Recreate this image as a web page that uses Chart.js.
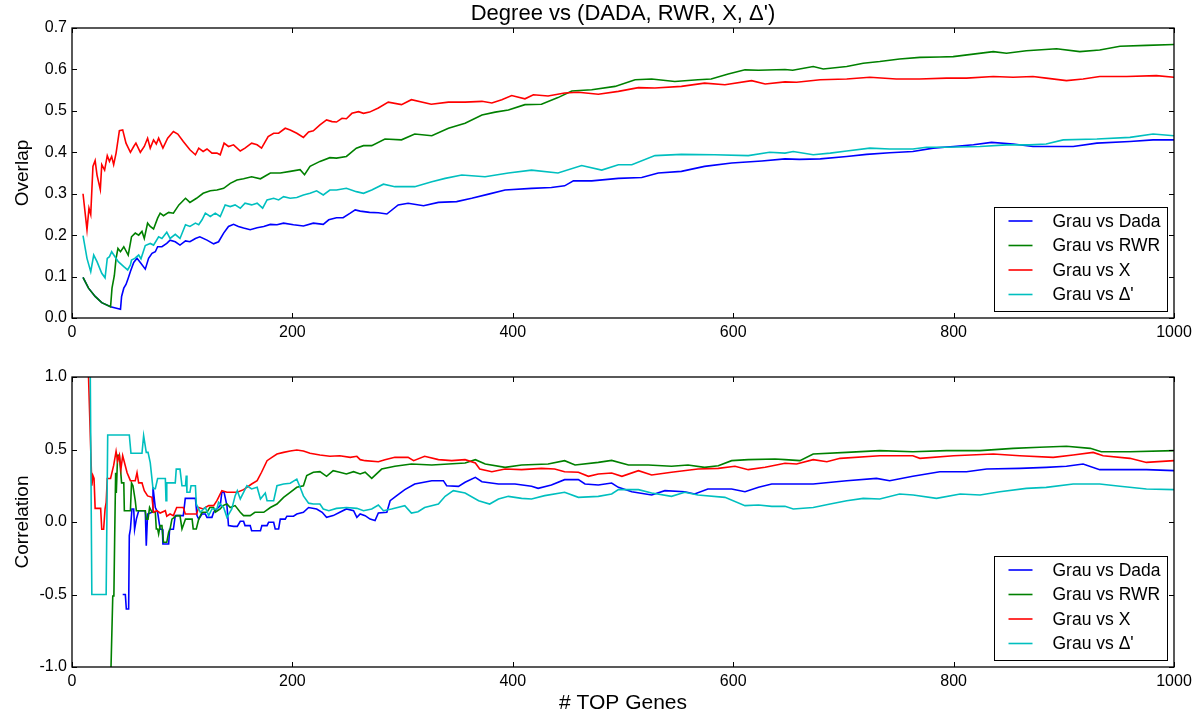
<!DOCTYPE html>
<html>
<head>
<meta charset="utf-8">
<script src="https://cdn.jsdelivr.net/npm/chart.js@4.4.1/dist/chart.umd.min.js"></script>
<style>
html,body{margin:0;padding:0;background:#fff;}
#wrap{position:relative;width:1200px;height:721px;overflow:hidden;background:#fff;}
canvas{position:absolute;left:0;}
#c1{top:0;}
#c2{top:350px;}
</style>
</head>
<body>
<div id="wrap">
<canvas id="c1" width="1200" height="350"></canvas>
<canvas id="c2" width="1200" height="371"></canvas>
</div>
<script>
// ---------- DATA ----------
const seriesLabels = ['Grau vs Dada', 'Grau vs RWR', 'Grau vs X', "Grau vs \u0394'"];
const seriesColors = ['#0000ff', '#008000', '#ff0000', '#00bfbf'];
const chartTitle = "Degree vs (DADA, RWR, X, \u0394')";
const overlapAxisTitle = 'Overlap';
const corrAxisTitle = 'Correlation';
const geneAxisTitle = '# TOP Genes';

const geneTicks = [0, 200, 400, 600, 800, 1000];
const overlapTicks = [0, 0.1, 0.2, 0.3, 0.4, 0.5, 0.6, 0.7];
const corrTicks = [-1, -0.5, 0, 0.5, 1];

// Overlap (top panel): [# top genes, overlap]
const overlapDada = [[10,0.098],[15,0.072],[21,0.052],[27,0.037],[35,0.027],[44,0.021],[45,0.052],[47,0.072],[49,0.081],[51,0.096],[53,0.112],[56,0.134],[59,0.144],[62,0.134],[66.5,0.118],[69.5,0.144],[72.6,0.156],[75.6,0.16],[77.7,0.172],[81.6,0.172],[86,0.18],[89,0.188],[93.7,0.184],[98,0.176],[103,0.186],[107,0.184],[112,0.192],[116,0.196],[122.5,0.188],[128.5,0.179],[133,0.184],[137.6,0.205],[142,0.221],[146.6,0.226],[151,0.221],[155.7,0.217],[161.7,0.213],[168,0.218],[174,0.221],[180,0.226],[186,0.225],[192,0.229],[201,0.225],[210,0.222],[219,0.229],[228,0.226],[233,0.237],[240,0.242],[246,0.242],[252.5,0.253],[257,0.261],[261.5,0.258],[270,0.255],[278,0.254],[285.7,0.251],[296,0.273],[305,0.277],[319,0.271],[332.5,0.279],[349,0.281],[362.7,0.289],[378,0.299],[393,0.309],[417,0.313],[435,0.315],[447,0.319],[455,0.331],[471.6,0.331],[495.8,0.337],[517,0.339],[532,0.35],[553,0.354],[574,0.366],[598.6,0.374],[626,0.379],[647,0.384],[660,0.383],[679,0.384],[703,0.39],[721,0.395],[742,0.399],[763,0.402],[781.5,0.41],[800,0.414],[818,0.418],[834.4,0.424],[854,0.42],[872,0.414],[890,0.414],[908.5,0.414],[930,0.422],[960,0.426],[981,0.43],[1000,0.43]];
const overlapRwr = [[10,0.098],[15,0.072],[21,0.052],[27,0.037],[35,0.027],[36.3,0.072],[38.4,0.102],[40,0.144],[41.7,0.168],[44,0.16],[47,0.172],[51,0.152],[54,0.196],[57.4,0.205],[60.5,0.2],[63.5,0.209],[65.6,0.192],[68.6,0.229],[71,0.221],[74,0.215],[77.7,0.241],[80,0.253],[83,0.247],[87.7,0.255],[92,0.253],[97,0.273],[103,0.289],[107,0.279],[113,0.289],[119,0.301],[125.5,0.307],[131.5,0.309],[137.6,0.313],[143.6,0.325],[149.7,0.333],[155.7,0.336],[163,0.341],[171,0.336],[180,0.35],[189,0.35],[198,0.354],[207,0.358],[211,0.346],[216,0.366],[225,0.378],[234,0.387],[240,0.386],[249,0.39],[258,0.41],[264.5,0.416],[272,0.416],[284,0.432],[299,0.43],[311,0.444],[326.5,0.44],[341.6,0.458],[356.7,0.47],[372,0.49],[384,0.497],[396,0.502],[411,0.515],[426,0.516],[441,0.532],[453.5,0.548],[471.6,0.551],[492.8,0.559],[511,0.575],[526,0.577],[547,0.571],[568,0.575],[580,0.577],[595.5,0.589],[610.7,0.599],[623,0.598],[647,0.6],[654,0.598],[672.6,0.607],[681.7,0.601],[703,0.607],[718,0.615],[733,0.619],[751,0.625],[769.4,0.629],[787.5,0.63],[799.6,0.631],[817.8,0.637],[836,0.643],[848,0.639],[866,0.645],[893.4,0.65],[914.5,0.643],[932.6,0.647],[951,0.656],[975,0.658],[1000,0.66]];
const overlapX = [[10,0.3],[13.6,0.213],[15.4,0.265],[17,0.25],[19,0.366],[21,0.38],[22.7,0.345],[25.7,0.31],[27,0.37],[29.6,0.357],[32,0.392],[34,0.378],[36,0.39],[37.8,0.37],[40,0.398],[43,0.452],[46,0.454],[49,0.422],[53,0.4],[56,0.414],[58,0.422],[62,0.4],[65.6,0.414],[68.6,0.434],[71,0.41],[74,0.43],[76.5,0.42],[78.6,0.434],[82.5,0.41],[86.8,0.434],[92,0.45],[96,0.444],[101,0.426],[107,0.406],[112,0.394],[115,0.41],[119,0.402],[122.5,0.408],[127,0.398],[131.5,0.398],[134.5,0.394],[138,0.422],[142,0.414],[146.6,0.418],[152.7,0.403],[157,0.41],[163,0.422],[168,0.418],[172,0.41],[178,0.438],[183,0.446],[187.5,0.446],[193.5,0.458],[198,0.454],[204,0.446],[210,0.436],[214.7,0.449],[219,0.452],[225,0.466],[231,0.478],[236,0.474],[240,0.473],[245,0.482],[249,0.481],[254,0.494],[260,0.498],[264.5,0.494],[270,0.497],[278,0.507],[287,0.521],[299,0.515],[308,0.527],[326,0.516],[341.6,0.521],[356.7,0.521],[372,0.523],[381,0.519],[390,0.527],[399,0.537],[411,0.529],[418.7,0.539],[432,0.536],[447,0.543],[459.5,0.545],[477.6,0.54],[495.8,0.547],[514,0.556],[529,0.555],[553,0.559],[574,0.567],[592.5,0.563],[616.7,0.573],[629,0.565],[647,0.57],[657.5,0.569],[679,0.575],[703,0.577],[724,0.581],[748,0.577],[769,0.577],[793.6,0.579],[811.7,0.579],[836,0.583],[854,0.581],[872,0.583],[884,0.579],[902.4,0.573],[917.5,0.577],[932.6,0.583],[957,0.583],[984,0.585],[1000,0.581]];
const overlapDelta = [[10,0.199],[13.6,0.144],[17,0.112],[19.7,0.152],[22.7,0.136],[27,0.108],[30,0.097],[32,0.144],[34,0.148],[36,0.16],[39,0.148],[42,0.136],[47,0.124],[50.5,0.116],[53,0.128],[54,0.14],[57,0.144],[60.5,0.152],[62.6,0.143],[66.5,0.175],[71,0.18],[74,0.176],[78.6,0.196],[81.6,0.192],[86,0.207],[89,0.192],[93.7,0.202],[98,0.192],[103,0.225],[107,0.221],[112,0.229],[115,0.225],[118,0.237],[121,0.253],[125.5,0.245],[130,0.253],[134.5,0.245],[139,0.273],[143.6,0.269],[148,0.273],[152.7,0.265],[157,0.277],[163,0.273],[168,0.277],[173,0.265],[177,0.285],[183,0.289],[187.5,0.285],[192,0.293],[198,0.289],[204,0.291],[210,0.297],[216,0.301],[222,0.307],[228,0.297],[234,0.309],[240,0.309],[249,0.313],[258,0.305],[264.5,0.301],[272,0.309],[282.6,0.323],[293,0.317],[311,0.317],[326.5,0.329],[338.6,0.337],[353.7,0.345],[374.8,0.341],[396,0.35],[417,0.357],[441,0.35],[462.5,0.368],[480.7,0.357],[495.8,0.37],[508,0.37],[529,0.392],[553,0.395],[583,0.394],[613.7,0.392],[633,0.4],[647,0.398],[654.5,0.402],[672.6,0.394],[688,0.398],[703,0.403],[724,0.41],[742,0.408],[763,0.408],[775.4,0.412],[793.6,0.412],[824,0.414],[848,0.418],[869,0.418],[884,0.42],[899.4,0.43],[930,0.432],[960,0.436],[981,0.444],[1000,0.44]];

// Correlation (bottom panel): [# top genes, correlation]
const corrDada = [[46,-0.5],[48.4,-0.5],[49.3,-0.6],[51.4,-0.6],[52,-0.094],[53,-0.05],[54.4,0.09],[56,0.09],[56.8,-0.05],[58.4,0.02],[60.5,0.078],[66.5,0.078],[67.4,-0.163],[68.6,0.055],[72.6,0.067],[73.5,0.24],[75.6,0.1],[77.7,0.067],[80,-0.05],[82,-0.05],[82.5,-0.152],[87.7,-0.152],[88.6,-0.05],[92,-0.05],[93.7,0.044],[101,0.044],[102.8,0.163],[112,0.163],[113.4,0.044],[115,0.02],[118,0.055],[121,0.055],[122.5,0.032],[127,0.032],[128.5,0.067],[131.5,0.09],[134.5,0.113],[136,0.205],[138,0.205],[140.6,0.113],[142,-0.025],[146.6,-0.03],[150,-0.03],[152.7,0.005],[155.7,0.005],[157,-0.025],[161.7,-0.025],[163,-0.06],[171,-0.06],[172.3,-0.025],[177,-0.025],[178.4,-0.002],[183,-0.002],[184.4,-0.048],[187.5,-0.048],[189,0.02],[193.5,0.02],[195,0.04],[201,0.04],[204,0.055],[210,0.067],[214.7,0.1],[222,0.09],[227,0.067],[231,0.032],[237,0.044],[243,0.067],[249,0.09],[255.5,0.078],[258.5,0.032],[261.5,0.055],[266,0.044],[270.5,0.02],[275,0.01],[278,0.062],[285.7,0.067],[288.7,0.147],[294.7,0.182],[302,0.223],[311,0.262],[326.5,0.285],[337,0.285],[340,0.25],[350.7,0.246],[356.7,0.274],[366,0.308],[372,0.278],[387,0.262],[402,0.262],[417,0.246],[423,0.232],[435,0.255],[447,0.292],[459.5,0.292],[465.5,0.262],[477.6,0.255],[489.7,0.269],[495.8,0.239],[508,0.209],[526,0.186],[538,0.216],[556,0.209],[565,0.193],[577,0.228],[598.6,0.228],[610.7,0.209],[623,0.239],[635,0.262],[647,0.262],[672.6,0.262],[703,0.285],[730,0.301],[742,0.285],[763,0.315],[787.5,0.347],[811.7,0.347],[830,0.365],[860,0.37],[884,0.377],[902.4,0.384],[917.5,0.4],[932.6,0.361],[960,0.361],[975,0.361],[1000,0.354]];
const corrRwr = [[35.4,-1.0],[37,-0.51],[38,-0.51],[38.7,-0.12],[39.6,0.34],[40.2,0.2],[41.4,0.46],[43,0.46],[45,0.27],[47,0.27],[47.5,0.078],[53,0.078],[54,0.27],[55.3,0.25],[57.4,0.147],[58.4,0.078],[66.5,0.078],[67.4,0.02],[69,0.02],[70.4,0.1],[72.6,0.067],[75.6,0.067],[76.5,-0.048],[77.7,-0.048],[78.6,-0.083],[80,-0.025],[81.6,-0.025],[83,-0.14],[86,-0.14],[87.7,-0.07],[89,-0.048],[90.7,0.02],[95,0.044],[98,0.044],[99.8,-0.048],[103,0.02],[109,0.02],[110,-0.048],[112.8,-0.048],[115,0.02],[118,0.067],[122.5,0.067],[125,0.1],[128.5,0.1],[130,0.067],[134.5,0.09],[137,0.113],[140.6,0.124],[143.6,0.1],[148,0.113],[152.7,0.067],[155.7,0.044],[161.7,0.044],[166,0.067],[174,0.067],[180,0.1],[186,0.124],[192,0.17],[198,0.205],[204,0.239],[210,0.25],[213,0.32],[219,0.343],[225,0.347],[231,0.315],[237,0.354],[243,0.343],[249,0.331],[255.5,0.347],[261.5,0.331],[266,0.343],[272,0.301],[281,0.365],[293,0.384],[308,0.4],[326.5,0.393],[341.6,0.4],[356.7,0.407],[366,0.43],[375,0.4],[393,0.377],[408,0.393],[432,0.4],[447,0.423],[456.5,0.393],[477.6,0.411],[489.7,0.425],[505,0.393],[523,0.393],[544,0.384],[559,0.393],[574,0.377],[586.5,0.388],[598.6,0.423],[613.7,0.43],[638,0.434],[647,0.43],[660.5,0.423],[672.6,0.469],[703,0.48],[733,0.492],[763,0.485],[793.6,0.492],[824,0.492],[854,0.508],[878,0.515],[902.4,0.522],[924,0.508],[934,0.485],[960,0.485],[1000,0.492]];
const corrX = [[15,1.0],[18,0.25],[19,0.32],[20,0.3],[21,0.094],[26,0.094],[27,-0.05],[28.7,-0.05],[30,0.09],[31,0.135],[32,0.3],[35,0.3],[37.8,0.39],[40,0.487],[41.4,0.42],[43,0.46],[44.4,0.365],[46,0.457],[50,0.34],[53,0.285],[57.4,0.285],[59,0.34],[60.5,0.27],[63.5,0.27],[65.6,0.216],[68.6,0.18],[72.6,0.17],[74,0.067],[77,0.078],[80,0.062],[84.7,0.078],[86,0.04],[89,0.055],[92,0.044],[95,0.1],[101,0.1],[102.8,0.055],[113,0.055],[115,0.1],[119,0.09],[124,0.113],[128.5,0.113],[131.5,0.147],[136,0.216],[140.6,0.205],[150,0.205],[155.7,0.223],[163,0.262],[168,0.285],[172,0.343],[177,0.423],[181.4,0.446],[186,0.469],[192,0.48],[198,0.49],[204,0.497],[210,0.49],[216,0.474],[225,0.462],[234,0.453],[243,0.457],[252.5,0.446],[258.5,0.453],[261.5,0.43],[266,0.423],[278,0.416],[284,0.43],[293,0.446],[305,0.446],[310,0.423],[320,0.453],[332.5,0.43],[344.6,0.423],[356.7,0.43],[366,0.407],[370,0.365],[381,0.347],[393,0.365],[408,0.361],[426,0.37],[438,0.365],[447,0.347],[459.5,0.343],[468.6,0.315],[477.6,0.331],[489.7,0.338],[499,0.315],[514,0.354],[526,0.324],[544,0.343],[568,0.365],[586.5,0.37],[601.6,0.384],[613.7,0.361],[629,0.377],[647,0.405],[657.5,0.4],[672.6,0.43],[685,0.416],[697,0.439],[733,0.457],[763,0.457],[769.4,0.439],[800,0.457],[836,0.469],[860,0.457],[890.4,0.446],[908.5,0.462],[926.6,0.48],[935.7,0.457],[960,0.439],[975,0.411],[1000,0.423]];
const corrDelta = [[16.6,1.0],[18,-0.5],[31,-0.5],[32.4,0.6],[52,0.6],[53.5,0.474],[63.5,0.474],[65,0.595],[67.4,0.48],[69,0.48],[71,0.41],[73.5,0.23],[75.6,0.23],[77.7,0.3],[84.7,0.3],[85.3,0.147],[86,0.27],[93.7,0.27],[94.6,0.365],[98,0.365],[99.8,0.25],[103,0.25],[103.7,0.32],[104.3,0.205],[107,0.205],[108,0.25],[112,0.25],[112.8,0.124],[116.4,0.067],[121,0.1],[124,0.044],[127,0.09],[131.5,0.09],[133,0.136],[137.6,0.1],[140.6,0.032],[145,0.09],[148,0.18],[150,0.216],[152.7,0.159],[155.7,0.205],[158.7,0.25],[163,0.228],[168,0.239],[171,0.159],[175.4,0.2],[177,0.147],[183,0.147],[186,0.25],[192,0.262],[198,0.267],[204,0.296],[207,0.24],[210,0.18],[214.7,0.13],[219,0.124],[225,0.124],[228,0.09],[233,0.078],[240,0.094],[249,0.1],[258.5,0.094],[264.5,0.078],[272,0.09],[278,0.117],[282.6,0.078],[290,0.09],[302,0.113],[308,0.062],[314,0.071],[320,0.1],[332.5,0.124],[338.6,0.177],[346,0.216],[356.7,0.2],[369,0.147],[379,0.124],[387,0.159],[396,0.177],[408,0.163],[417,0.159],[429,0.182],[447,0.205],[459.5,0.17],[477.6,0.177],[489.7,0.193],[495.8,0.223],[514,0.223],[526,0.2],[544,0.177],[556,0.205],[568,0.186],[592.5,0.17],[610.7,0.113],[623,0.117],[635,0.108],[647,0.108],[654.5,0.09],[672.6,0.1],[688,0.124],[703,0.147],[718,0.163],[733,0.159],[751,0.193],[763.3,0.186],[784.5,0.163],[806,0.193],[824,0.186],[842,0.209],[866,0.232],[884,0.239],[908.5,0.262],[932.6,0.262],[951,0.246],[975,0.228],[1000,0.223]];

// ---------- CHART SETUP ----------
const FONT = "'Liberation Sans', Arial, Helvetica, sans-serif";
Chart.defaults.font.family = FONT;
Chart.defaults.color = '#000';

const boxPlugin = {
  id: 'mplBox',
  afterDraw(chart) {
    const { ctx, chartArea: a, scales: { x, y } } = chart;
    ctx.save();
    ctx.strokeStyle = '#000';
    ctx.lineWidth = 1;
    const L = 5;
    ctx.beginPath();
    x.ticks.forEach(t => {
      const px = Math.round(x.getPixelForValue(t.value)) + 0.5;
      ctx.moveTo(px, a.bottom); ctx.lineTo(px, a.bottom - L);
      ctx.moveTo(px, a.top); ctx.lineTo(px, a.top + L);
    });
    y.ticks.forEach(t => {
      const py = Math.round(y.getPixelForValue(t.value)) + 0.5;
      ctx.moveTo(a.left, py); ctx.lineTo(a.left + L, py);
      ctx.moveTo(a.right, py); ctx.lineTo(a.right - L, py);
    });
    ctx.stroke();
    ctx.lineWidth = 1.3;
    ctx.strokeRect(a.left, a.top, a.right - a.left, a.bottom - a.top);

    // legend box (lower right, inside axes)
    const W = 173, H = 104;
    const bx = Math.round(a.right - 7 - W) + 0.5;
    const by = Math.round(a.bottom - 7 - H) + 0.5;
    ctx.fillStyle = '#fff';
    ctx.fillRect(bx, by, W, H);
    ctx.lineWidth = 1;
    ctx.strokeRect(bx, by, W, H);
    ctx.font = '17.5px ' + FONT;
    ctx.textBaseline = 'middle';
    ctx.textAlign = 'left';
    chart.data.datasets.forEach((ds, i) => {
      const ry = by + 13.5 + 24.5 * i;
      ctx.strokeStyle = ds.borderColor;
      ctx.lineWidth = 1.6;
      ctx.beginPath();
      ctx.moveTo(bx + 14, ry); ctx.lineTo(bx + 38, ry);
      ctx.stroke();
      ctx.fillStyle = '#000';
      ctx.fillText(ds.label, bx + 58, ry + 1);
    });
    ctx.restore();
  }
};

function makeDatasets(list) {
  return list.map((pts, i) => ({
    label: seriesLabels[i],
    data: pts.map(p => ({ x: p[0], y: p[1] })),
    borderColor: seriesColors[i],
    backgroundColor: seriesColors[i],
    borderWidth: 1.6,
    pointRadius: 0,
    tension: 0,
    fill: false,
    order: list.length - i
  }));
}

function tickSetter(values) {
  return scale => { scale.ticks = values.map(v => ({ value: v })); };
}

function makeChart(canvasId, cfg) {
  return new Chart(document.getElementById(canvasId), {
    type: 'line',
    data: { datasets: makeDatasets(cfg.series) },
    options: {
      responsive: false,
      animation: false,
      devicePixelRatio: 1,
      layout: { padding: { left: 0, right: 26, top: cfg.padTop, bottom: 0 } },
      plugins: {
        legend: { display: false },
        tooltip: { enabled: false },
        title: cfg.title ? {
          display: true, text: cfg.title, fullSize: false, color: '#000',
          font: { size: 22, weight: 'normal', family: FONT },
          padding: { top: 1, bottom: 0.6 }
        } : { display: false }
      },
      scales: {
        x: {
          type: 'linear', min: 0, max: 1000,
          afterBuildTicks: tickSetter(geneTicks),
          afterFit: s => { s.height = cfg.xHeight; },
          grid: { display: false, drawTicks: false },
          border: { display: false },
          ticks: { padding: 5, color: '#000', font: { size: 16 }, maxRotation: 0, autoSkip: false,
                   callback: v => String(v) },
          title: cfg.xTitle ? { display: true, text: cfg.xTitle, color: '#000',
                   font: { size: 21 }, padding: { top: 0, bottom: 5.4 } } : { display: false }
        },
        y: {
          type: 'linear', min: cfg.yMin, max: cfg.yMax,
          afterBuildTicks: tickSetter(cfg.yTicks),
          afterFit: s => { s.width = 72; },
          grid: { display: false, drawTicks: false },
          border: { display: false },
          ticks: { padding: 5, color: '#000', font: { size: 16 }, autoSkip: false,
                   callback: v => Number(v).toFixed(1) },
          title: { display: true, text: cfg.yTitle, color: '#000',
                   font: { size: 19 }, padding: { top: 11.6, bottom: 0 } }
        }
      }
    },
    plugins: [boxPlugin]
  });
}

makeChart('c1', {
  series: [overlapDada, overlapRwr, overlapX, overlapDelta],
  title: chartTitle, padTop: 0, xHeight: 32,
  yMin: 0, yMax: 0.7, yTicks: overlapTicks, yTitle: overlapAxisTitle, xTitle: null
});
makeChart('c2', {
  series: [corrDada, corrRwr, corrX, corrDelta],
  title: null, padTop: 27, xHeight: 54,
  yMin: -1, yMax: 1, yTicks: corrTicks, yTitle: corrAxisTitle, xTitle: geneAxisTitle
});
</script>
</body>
</html>
